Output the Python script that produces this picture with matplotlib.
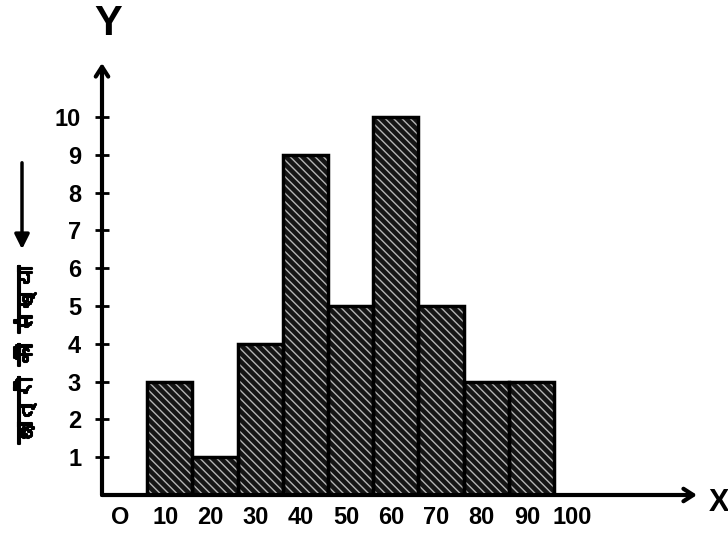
import matplotlib
matplotlib.use("Agg")
import matplotlib.pyplot as plt
import matplotlib.transforms as mtransforms
import matplotlib.patheffects as pe
from matplotlib import font_manager
from matplotlib.ft2font import FT2Font

# class intervals (marks) and number of students
edges = [10, 20, 30, 40, 50, 60, 70, 80, 90, 100]
students = [3, 1, 4, 9, 5, 10, 5, 3, 3]
xtick_vals = [0, 10, 20, 30, 40, 50, 60, 70, 80, 90, 100]
xtick_labels = ["O", "10", "20", "30", "40", "50", "60", "70", "80", "90", "100"]
ytick_vals = [1, 2, 3, 4, 5, 6, 7, 8, 9, 10]
ylabel_text = "छात्रों की संख्या"


def find_font(ch):
    # look for an installed font that has the glyph
    for f in font_manager.fontManager.ttflist:
        try:
            if ord(ch) in FT2Font(f.fname).get_charmap():
                return f.name
        except Exception:
            pass
    return None


hindi_font = find_font("छ")
hindi_family = [hindi_font, "DejaVu Sans"] if hindi_font else ["DejaVu Sans"]

plt.rcParams["hatch.linewidth"] = 1.0

W, H = 728, 542
fig = plt.figure(figsize=(W / 100, H / 100), dpi=100)
ax = fig.add_axes([102 / W, (H - 495) / H, (697 - 102) / W, (495 - 63) / H])

lefts = edges[:-1]
widths = [b - a for a, b in zip(edges[:-1], edges[1:])]

# dark hatched fill, then a heavy outline on top
ax.bar(lefts, students, width=widths, align="edge", color="#151515",
       edgecolor="#b4b4b4", hatch="\\\\\\\\", linewidth=0, zorder=2)
ax.bar(lefts, students, width=widths, align="edge", fill=False,
       edgecolor="black", linewidth=2.5, zorder=3)

ax.set_xlim(0, (697 - 102) / 4.52)
ax.set_ylim(0, (495 - 63) / 37.8)

for s in ax.spines.values():
    s.set_visible(False)

# axes drawn as arrows
arrow = dict(arrowstyle="->,head_length=0.7,head_width=0.45", lw=3, color="black",
             shrinkA=0, shrinkB=0)
ax.annotate("", xy=(0, 1), xytext=(0, 0), xycoords="axes fraction", arrowprops=arrow,
            annotation_clip=False)
ax.annotate("", xy=(1, 0), xytext=(0, 0), xycoords="axes fraction", arrowprops=arrow,
            annotation_clip=False)

ax.set_xticks(xtick_vals)
ax.set_xticklabels(xtick_labels)
ax.set_yticks(ytick_vals)
ax.set_yticklabels([str(v) for v in ytick_vals])
ax.tick_params(axis="x", length=0, pad=8)
ax.tick_params(axis="y", direction="inout", length=10, width=2, pad=10)

shift = mtransforms.ScaledTranslation(0.18, 0, fig.dpi_scale_trans)
for lbl in ax.get_xticklabels():
    lbl.set_transform(lbl.get_transform() + shift)
    lbl.set_fontsize(17)
    lbl.set_fontweight("bold")
    lbl.set_family("Liberation Sans")
for lbl in ax.get_yticklabels():
    lbl.set_fontsize(17)
    lbl.set_fontweight("bold")
    lbl.set_family("Liberation Sans")

fig.text(108 / W, 1 - 24 / H, "Y", fontsize=30, fontweight="bold", ha="center", va="center",
         family="Liberation Sans")
fig.text(709 / W, 1 - 503 / H, "X", fontsize=22, fontweight="bold", ha="left", va="center",
         family="Liberation Sans")

fig.text(26 / W, 1 - 355 / H, ylabel_text, rotation=90, fontsize=16, fontweight="bold",
         ha="center", va="center", family=hindi_family,
         path_effects=[pe.withStroke(linewidth=1.5, foreground="black")])
ax.annotate("", xy=(22, H - 252), xytext=(22, H - 160), xycoords="figure pixels",
            arrowprops=dict(arrowstyle="-|>", lw=2.5, color="black", mutation_scale=22),
            annotation_clip=False)

fig.savefig("out.png", dpi=100)
